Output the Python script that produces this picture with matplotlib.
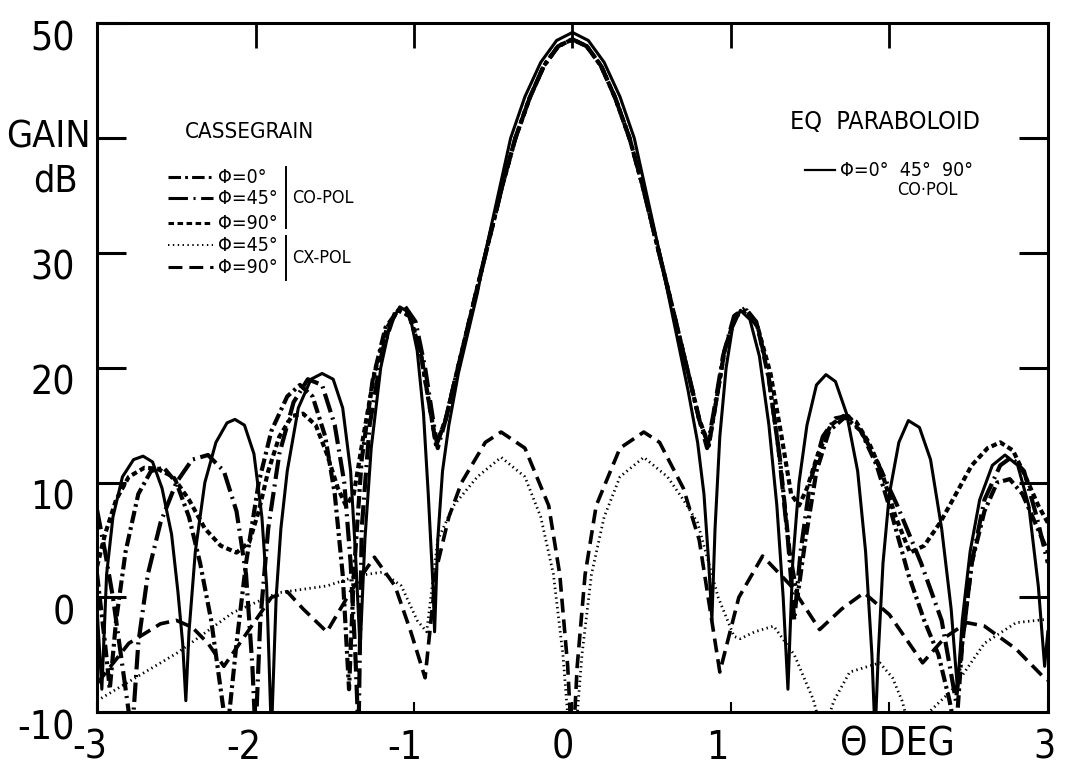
import numpy as np
import matplotlib.pyplot as plt
from matplotlib import font_manager
from matplotlib.transforms import ScaledTranslation

names = {f.name for f in font_manager.fontManager.ttflist}
if 'Liberation Sans Narrow' in names:
    plt.rcParams['font.family'] = ['Liberation Sans Narrow', 'DejaVu Sans']
    STRETCH = 'normal'
else:
    plt.rcParams['font.family'] = ['DejaVu Sans']
    STRETCH = 'condensed'
plt.rcParams['lines.scale_dashes'] = False

# --- EQ paraboloid, co-pol (solid) ---
par_theta = [-3.00, -2.97, -2.94, -2.90, -2.84, -2.77, -2.71, -2.65, -2.59, -2.53, -2.49, -2.46, -2.44,
             -2.42, -2.38, -2.32, -2.25, -2.18, -2.13, -2.07, -2.01, -1.96, -1.93, -1.90, -1.87, -1.84,
             -1.80, -1.73, -1.65, -1.58, -1.51, -1.45, -1.40, -1.37, -1.34, -1.31, -1.27, -1.21, -1.15,
             -1.09, -1.03, -0.98, -0.94, -0.91, -0.88, -0.87, -0.85, -0.82, -0.78, -0.72, -0.66, -0.60,
             -0.55, -0.47, -0.39, -0.30, -0.20, -0.10, 0.00, 0.10, 0.20, 0.30, 0.39, 0.47, 0.55, 0.61,
             0.67, 0.73, 0.79, 0.83, 0.86, 0.88, 0.90, 0.93, 0.97, 1.01, 1.06, 1.12, 1.18, 1.24, 1.29,
             1.33, 1.36, 1.39, 1.43, 1.48, 1.54, 1.60, 1.66, 1.73, 1.80, 1.85, 1.89, 1.91, 1.93, 1.96,
             2.00, 2.06, 2.12, 2.19, 2.26, 2.33, 2.39, 2.43, 2.46, 2.51, 2.57, 2.65, 2.73, 2.81, 2.88,
             2.94, 2.98, 3.00]
par_gain = [-1, -8, 2, 7, 10.5, 12, 12.3, 11.8, 9.5, 5.5, 0.5, -4, -9,
            -3, 4, 10, 13.5, 15.2, 15.5, 15, 12.5, 7, 1, -12, 0, 6,
            11, 16.5, 19, 19.5, 19, 16.5, 11, 4, -4.5, 5, 13, 20, 23.8,
            25.3, 24.8, 21.5, 16, 9, 1, -3, 5, 11, 15, 19.5, 23, 26.5,
            30, 35, 40, 43.6, 46.6, 48.5, 49.2, 48.5, 46.6, 43.6, 40, 35, 30, 26,
            22, 18, 13.5, 9, 3, -2, 6, 14, 20, 23.5, 25, 24.2, 21, 15, 8,
            0, -8, 3, 10, 15, 18.5, 19.4, 18.8, 16, 11, 4, -5, -12, -5, 3,
            9, 13.5, 15.4, 14.8, 12, 6, -1, -8, -2, 4, 8.5, 11.5, 12.4, 11.5, 8,
            1, -6, -3]

# --- Cassegrain co-pol main lobe (shared by phi = 0, 45, 90) ---
cass_main_theta = [-0.80, -0.74, -0.67, -0.60, -0.52, -0.44, -0.36, -0.27, -0.18, -0.09, 0.00,
                   0.09, 0.18, 0.27, 0.36, 0.44, 0.52, 0.60, 0.67, 0.74, 0.80]
cass_main_gain = [15.5, 19, 23, 27, 31.5, 36, 40, 43.5, 46.3, 48, 48.6,
                  48, 46.3, 43.5, 40, 36, 31.5, 27, 23, 19, 15.5]

# phi = 0 co-pol (dash-dot)
p0_left_theta = [-3.00, -2.95, -2.92, -2.88, -2.82, -2.74, -2.66, -2.58, -2.50, -2.42, -2.35, -2.28,
                 -2.22, -2.18, -2.12, -2.06, -1.98, -1.90, -1.80, -1.72, -1.64, -1.56, -1.50, -1.45,
                 -1.41, -1.38, -1.33, -1.26, -1.18, -1.10, -1.03, -0.96, -0.90, -0.86]
p0_left_gain = [2, -4, -8, -2, 4, 9, 11, 11.3, 10, 7, 3, -2,
                -8, -12, -4, 3, 10, 14.5, 17.5, 18.5, 17.5, 14, 9, 2,
                -8, 2, 12, 19, 23.5, 25, 24.5, 21.5, 16.5, 13.2]
p0_right_theta = [0.86, 0.90, 0.96, 1.03, 1.10, 1.17, 1.24, 1.31, 1.37, 1.42, 1.47, 1.54, 1.62, 1.72,
                  1.82, 1.92, 2.02, 2.12, 2.22, 2.31, 2.38, 2.42, 2.46, 2.52, 2.60, 2.68, 2.76, 2.84,
                  2.92, 3.00]
p0_right_gain = [13.2, 16.5, 21.5, 24.5, 25, 23.5, 19, 12, 4, 0, 5, 11, 14.5, 15.7,
                 14.5, 11.5, 7, 2, -2, -5, -9, -12, -4, 3, 7.5, 10, 10.3, 9, 6.5, 4]

# phi = 45 co-pol (long dash - dot)
p45_left_theta = [-3.00, -2.95, -2.90, -2.86, -2.82, -2.78, -2.74, -2.68, -2.60, -2.50, -2.40, -2.30,
                  -2.20, -2.12, -2.06, -2.02, -2.00, -1.97, -1.92, -1.85, -1.76, -1.67, -1.58, -1.50,
                  -1.44, -1.40, -1.37, -1.35, -1.33, -1.28, -1.20, -1.12, -1.06, -0.99, -0.93, -0.88,
                  -0.85]
p45_left_gain = [7.6, 4, 0, -4, -8, -12, -4, 2, 6.5, 10, 12, 12.4,
                 11, 7.5, 2, -6, -12, -2, 6, 12.5, 17, 19, 18.5, 15,
                 10, 3, -5, -12, 6, 15, 21.5, 24.8, 25.4, 24, 20, 15.5,
                 13]
p45_right_theta = [0.85, 0.89, 0.95, 1.02, 1.09, 1.16, 1.23, 1.30, 1.36, 1.40, 1.44, 1.50, 1.58, 1.66,
                   1.74, 1.82, 1.90, 2.05, 2.20, 2.33, 2.42, 2.46, 2.52, 2.60, 2.70, 2.77, 2.85, 2.93,
                   3.00]
p45_right_gain = [13, 16, 21, 24.5, 25.2, 24, 20, 13, 5, -2, 4, 10, 14, 15.6,
                  15.8, 14.5, 12.5, 8, 3, -2, -9, -4, 3, 8.5, 11.5, 12.2, 11, 7, 3]

# phi = 90 co-pol (short dashes)
p90_left_theta = [-3.00, -2.95, -2.88, -2.80, -2.70, -2.62, -2.52, -2.42, -2.32, -2.22, -2.12, -2.04,
                  -1.98, -1.92, -1.85, -1.77, -1.70, -1.62, -1.55, -1.48, -1.43, -1.38, -1.32, -1.25,
                  -1.17, -1.10, -1.03, -0.96, -0.90, -0.86]
p90_left_gain = [2.7, 5.5, 8.5, 10.5, 11.3, 11.2, 10.5, 8.5, 6, 4.5, 3.9, 4.8,
                 7.5, 11, 14, 15.8, 16, 15, 12.5, 9.5, 8, 9, 14, 19.5,
                 23.5, 25, 24.6, 21.5, 16.5, 13.3]
p90_right_theta = [0.86, 0.90, 0.96, 1.03, 1.10, 1.17, 1.25, 1.32, 1.38, 1.43, 1.48, 1.55, 1.63, 1.71,
                   1.79, 1.87, 1.95, 2.04, 2.13, 2.22, 2.32, 2.42, 2.52, 2.62, 2.70, 2.78, 2.86, 2.94,
                   3.00]
p90_right_gain = [13.3, 16.5, 21.5, 24.6, 25, 23.5, 19.5, 14, 9, 8, 9.5, 12.5, 15, 15.8,
                  15.3, 13.5, 11, 7, 3.9, 4.5, 6.5, 9, 11.5, 13, 13.5, 12.8, 10.5, 8, 6.5]

# phi = 45 cross-pol (dotted)
x45_theta = [-3.00, -2.77, -2.49, -2.14, -1.86, -1.55, -1.35, -1.20, -1.08, -0.98, -0.92, -0.85,
             -0.75, -0.60, -0.45, -0.30, -0.20, -0.12, -0.06, -0.02, 0.00, 0.02, 0.06, 0.12,
             0.20, 0.30, 0.45, 0.60, 0.70, 0.79, 0.92, 1.02, 1.06, 1.15, 1.27, 1.40, 1.52,
             1.58, 1.65, 1.75, 1.94, 2.02, 2.08, 2.14, 2.25, 2.40, 2.60, 2.80, 3.00]
x45_gain = [-9, -7.1, -4.8, -1.3, 0.4, 1, 1.9, 2.2, 1, -2, -3, 5,
            8, 10.5, 12.2, 10.5, 7, 2, -5, -12, -14, -12, -5, 2,
            7, 10.5, 12.2, 10.5, 8.5, 6.5, 0, -3.4, -3.6, -3, -2.5, -5, -8.9,
            -12, -9, -6.5, -5.7, -7, -9, -12, -10, -8, -4, -2.2, -1.9]

# phi = 90 cross-pol (long dashes)
x90_theta = [-3.00, -2.80, -2.60, -2.50, -2.40, -2.30, -2.20, -2.10, -2.00, -1.90, -1.80, -1.70,
             -1.55, -1.40, -1.25, -1.12, -1.02, -0.93, -0.86, -0.78, -0.70, -0.55, -0.45, -0.30,
             -0.15, -0.08, -0.03, 0.00, 0.03, 0.08, 0.15, 0.30, 0.45, 0.55, 0.70, 0.80, 0.93,
             1.05, 1.20, 1.38, 1.56, 1.70, 1.84, 2.00, 2.21, 2.35, 2.49, 2.60, 2.80, 2.97, 3.00]
x90_gain = [-7.5, -4, -2.3, -2, -2.6, -4, -6, -4, -2, 0, 0.5, -1,
            -3, 0.5, 3.5, 1, -3, -7, 2.4, 7, 10, 13.5, 14.4, 13,
            8, 2, -6, -14, -6, 2, 8, 13, 14.4, 13.5, 9.5, 5, -6.5,
            0, 3.6, 1, -2.8, -1, 0.4, -1.5, -5.7, -3.5, -2.2, -2.5, -4.5, -6.9, -7.2]

x_ticks = [-3, -2, -1, 0, 1, 2, 3]
x_tick_labels = ['-3', '-2', '-1', '0', '1', '', '3']
y_ticks = [-10, 0, 10, 20, 30, 40, 50]
y_tick_labels = ['-10', '0', '10', '20', '30', '', '50']

p0_theta = p0_left_theta + cass_main_theta + p0_right_theta
p0_gain = p0_left_gain + cass_main_gain + p0_right_gain
p45_theta = p45_left_theta + cass_main_theta + p45_right_theta
p45_gain = p45_left_gain + cass_main_gain + p45_right_gain
p90_theta = p90_left_theta + cass_main_theta + p90_right_theta
p90_gain = p90_left_gain + cass_main_gain + p90_right_gain

DASH_P0 = (9, 3, 2, 3)
DASH_P45 = (14, 4, 1.5, 4)
DASH_P90 = (4, 2.5)
DASH_X45 = (1, 2.5)
DASH_X90 = (10, 5)

fig = plt.figure(figsize=(10.67, 7.75), dpi=100)
ax = fig.add_axes([0.091, 0.081, 0.891, 0.889])

ax.plot(par_theta, par_gain, color='black', lw=2.2, solid_joinstyle='round')
ax.plot(p0_theta, p0_gain, color='black', lw=3.0, dashes=DASH_P0)
ax.plot(p45_theta, p45_gain, color='black', lw=3.0, dashes=DASH_P45)
ax.plot(p90_theta, p90_gain, color='black', lw=3.0, dashes=DASH_P90)
ax.plot(x45_theta, x45_gain, color='black', lw=2.0, dashes=DASH_X45)
ax.plot(x90_theta, x90_gain, color='black', lw=2.6, dashes=DASH_X90)

ax.set_xlim(-3, 3)
ax.set_ylim(-10, 50)
for s in ax.spines.values():
    s.set_linewidth(2.2)

ax.set_yticks(y_ticks)
ax.set_yticklabels(y_tick_labels)
ax.set_xticks(x_ticks)
ax.set_xticklabels(x_tick_labels)
ax.tick_params(axis='y', direction='in', length=21, width=2.2, labelsize=28, pad=16)
ax.tick_params(axis='x', direction='in', length=7, width=1.5, labelsize=28, pad=12)
for lab in ax.get_yticklabels():
    lab.set_fontstretch(STRETCH)
    lab.set_transform(lab.get_transform() + ScaledTranslation(0, -0.12, fig.dpi_scale_trans))
# hand lettering sits a little left of the ticks
x_shift = [-0.07, -0.12, -0.09, -0.10, -0.14, 0, -0.03]
for lab, dx in zip(ax.get_xticklabels(), x_shift):
    lab.set_fontstretch(STRETCH)
    lab.set_transform(lab.get_transform() + ScaledTranslation(dx, 0, fig.dpi_scale_trans))

top = ax.secondary_xaxis('top')
top.set_xticks([-2, -1, 0, 1, 2])
top.set_xticklabels([])
top.tick_params(direction='in', length=18, width=2.0)
right = ax.secondary_yaxis('right')
right.set_yticks([0, 10, 20, 30, 40])
right.set_yticklabels([])
right.tick_params(direction='in', length=21, width=2.2)

# axis titles
fig.text(48 / 1067, 1 - 138 / 775, 'GAIN', fontsize=27, ha='center', va='center', fontstretch=STRETCH)
fig.text(55 / 1067, 1 - 182 / 775, 'dB', fontsize=27, ha='center', va='center', fontstretch=STRETCH)
fig.text(897 / 1067, 1 - 745 / 775, '\u0398 DEG', fontsize=28, ha='center', va='center', fontstretch=STRETCH)

# Cassegrain key
T = ax.transAxes
def px(x, y):
    return ((x - 97) / 951, (712 - y) / 689)

ax.text(*px(185, 132), 'CASSEGRAIN', transform=T, fontsize=16, va='center', ha='left', fontstretch=STRETCH)
key_rows = [(177, DASH_P0, 2.2, '\u03a6=0\u00b0'), (198, DASH_P45, 2.2, '\u03a6=45\u00b0'),
            (223, DASH_P90, 2.2, '\u03a6=90\u00b0'), (245, DASH_X45, 1.4, '\u03a6=45\u00b0'),
            (267, DASH_X90, 2.2, '\u03a6=90\u00b0')]
for yy, d, w, lab in key_rows:
    x0, y0 = px(168, yy)
    x1, _ = px(213, yy)
    ax.plot([x0, x1], [y0, y0], transform=T, color='black', lw=w, dashes=d)
    ax.text(*px(218, yy), lab, transform=T, fontsize=14, va='center', ha='left', fontstretch=STRETCH)
for (ya, yb, lab) in [(167, 228, 'CO-POL'), (236, 280, 'CX-POL')]:
    xa, y0 = px(286, ya)
    _, y1 = px(286, yb)
    ax.plot([xa, xa], [y0, y1], transform=T, color='black', lw=1.4)
    ax.text(*px(292, (ya + yb) / 2), lab, transform=T, fontsize=13, va='center', ha='left', fontstretch=STRETCH)

# paraboloid key
ax.text(*px(790, 122), 'EQ  PARABOLOID', transform=T, fontsize=18, va='center', ha='left', fontstretch=STRETCH)
x0, y0 = px(805, 170)
x1, _ = px(835, 170)
ax.plot([x0, x1], [y0, y0], transform=T, color='black', lw=1.6)
ax.text(*px(840, 170), '\u03a6=0\u00b0  45\u00b0  90\u00b0', transform=T, fontsize=14, va='center', ha='left', fontstretch=STRETCH)
ax.text(*px(927, 190), 'CO\u00b7POL', transform=T, fontsize=13, va='center', ha='center', fontstretch=STRETCH)

fig.savefig('out.png', dpi=100)
